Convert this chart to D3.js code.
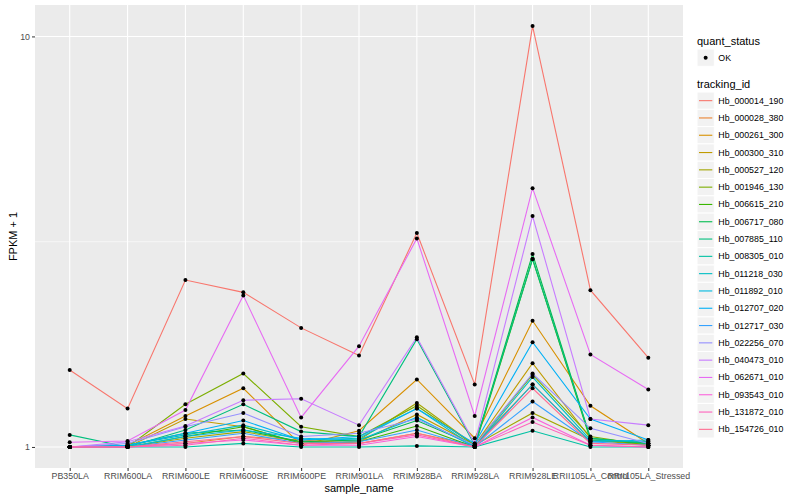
<!DOCTYPE html>
<html>
<head>
<meta charset="utf-8">
<script src="https://cdn.jsdelivr.net/npm/d3@7"></script>
<style>
  body { margin: 0; background: #fff; }
  text { font-family: "Liberation Sans", Arial, sans-serif; }
</style>
</head>
<body>
<svg id="plot" width="800" height="500"></svg>
<script>
'use strict';

const samples = ['PB350LA', 'RRIM600LA', 'RRIM600LE', 'RRIM600SE', 'RRIM600PE', 'RRIM901LA',
    'RRIM928BA', 'RRIM928LA', 'RRIM928LE', 'RRII105LA_Control', 'RRII105LA_Stressed'];

const trackingIds = ['Hb_000014_190', 'Hb_000028_380', 'Hb_000261_300', 'Hb_000300_310', 'Hb_000527_120',
    'Hb_001946_130', 'Hb_006615_210', 'Hb_006717_080', 'Hb_007885_110', 'Hb_008305_010',
    'Hb_011218_030', 'Hb_011892_010', 'Hb_012707_020', 'Hb_012717_030', 'Hb_022256_070',
    'Hb_040473_010', 'Hb_062671_010', 'Hb_093543_010', 'Hb_131872_010', 'Hb_154726_010'];

// FPKM + 1, one row per tracking id, one value per sample
const fpkm = [
    [1.54, 1.24, 2.55, 2.38, 1.95, 1.67, 3.32, 1.42, 10.6, 2.41, 1.65],
    [1.00, 1.00, 1.02, 1.06, 1.04, 1.02, 1.08, 1.01, 1.42, 1.03, 1.03],
    [1.00, 1.01, 1.19, 1.39, 1.01, 1.095, 1.46, 1.05, 2.03, 1.26, 1.02],
    [1.00, 1.00, 1.17, 1.12, 1.02, 1.03, 1.20, 1.01, 1.60, 1.05, 1.01],
    [1.00, 1.00, 1.05, 1.09, 1.03, 1.04, 1.28, 1.01, 1.21, 1.04, 1.01],
    [1.00, 1.00, 1.27, 1.51, 1.12, 1.06, 1.26, 1.01, 1.50, 1.06, 1.01],
    [1.00, 1.00, 1.06, 1.12, 1.02, 1.03, 1.125, 1.00, 2.87, 1.04, 1.02],
    [1.00, 1.01, 1.08, 1.10, 1.03, 1.04, 1.16, 1.01, 2.95, 1.05, 1.02],
    [1.07, 1.00, 1.10, 1.27, 1.09, 1.06, 1.83, 1.01, 2.87, 1.05, 1.02],
    [1.00, 1.00, 1.00, 1.02, 1.00, 1.00, 1.006, 1.00, 1.095, 1.00, 1.00],
    [1.00, 1.01, 1.07, 1.13, 1.04, 1.05, 1.24, 1.00, 1.48, 1.04, 1.03],
    [1.00, 1.00, 1.06, 1.10, 1.05, 1.04, 1.18, 1.00, 1.42, 1.03, 1.04],
    [1.00, 1.01, 1.08, 1.16, 1.04, 1.06, 1.24, 1.02, 1.80, 1.17, 1.04],
    [1.00, 1.00, 1.04, 1.08, 1.02, 1.03, 1.10, 1.00, 1.29, 1.03, 1.01],
    [1.00, 1.02, 1.12, 1.21, 1.06, 1.08, 1.17, 1.01, 1.51, 1.11, 1.02],
    [1.00, 1.03, 1.125, 1.30, 1.31, 1.13, 1.85, 1.02, 3.65, 1.17, 1.13],
    [1.027, 1.034, 1.23, 2.34, 1.18, 1.76, 3.22, 1.19, 4.27, 1.68, 1.38],
    [1.00, 1.00, 1.02, 1.04, 1.01, 1.01, 1.06, 1.00, 1.18, 1.01, 1.00],
    [1.00, 1.00, 1.01, 1.05, 1.01, 1.02, 1.07, 1.00, 1.15, 1.01, 1.00],
    [1.00, 1.00, 1.03, 1.06, 1.02, 1.02, 1.08, 1.00, 1.39, 1.02, 1.01]
];

const yTicks = [1, 10];
const yMinor = [Math.sqrt(10)];
const quantStatus = ['OK'];

// ggplot2 default hue palette for 20 levels
const colours = ['#F8766D', '#EA8331', '#D89000', '#C09B00', '#A3A500', '#7CAE00', '#39B600', '#00BB4E',
    '#00BF7D', '#00C1A3', '#00BFC4', '#00BAE0', '#00B0F6', '#35A2FF', '#9590FF', '#C77CFF',
    '#E76BF3', '#FA62DB', '#FF62BC', '#FF6C91'];

const panel = { left: 35, right: 683, top: 5, bottom: 468 };

const svg = d3.select('#plot');

const xScale = d3.scalePoint()
    .domain(samples)
    .range([panel.left, panel.right])
    .padding(0.6);

const allValues = fpkm.flat();
const logMin = Math.log10(d3.min(allValues));
const logMax = Math.log10(d3.max(allValues));
const logPad = (logMax - logMin) * 0.05;

const yScale = d3.scaleLog()
    .domain([Math.pow(10, logMin - logPad), Math.pow(10, logMax + logPad)])
    .range([panel.bottom, panel.top]);

const colourScale = d3.scaleOrdinal().domain(trackingIds).range(colours);

// panel background and grid
svg.append('rect')
    .attr('x', panel.left).attr('y', panel.top)
    .attr('width', panel.right - panel.left).attr('height', panel.bottom - panel.top)
    .attr('fill', '#EBEBEB');

const grid = svg.append('g');
grid.selectAll('.minor-y').data(yMinor).enter().append('line')
    .attr('x1', panel.left).attr('x2', panel.right)
    .attr('y1', d => yScale(d)).attr('y2', d => yScale(d))
    .attr('stroke', '#fff').attr('stroke-width', 0.55);
grid.selectAll('.major-y').data(yTicks).enter().append('line')
    .attr('x1', panel.left).attr('x2', panel.right)
    .attr('y1', d => yScale(d)).attr('y2', d => yScale(d))
    .attr('stroke', '#fff').attr('stroke-width', 1.1);
grid.selectAll('.major-x').data(samples).enter().append('line')
    .attr('x1', d => xScale(d)).attr('x2', d => xScale(d))
    .attr('y1', panel.top).attr('y2', panel.bottom)
    .attr('stroke', '#fff').attr('stroke-width', 1.1);

// lines
const series = trackingIds.map((id, i) => ({ id, values: fpkm[i] }));
const line = d3.line()
    .x((_, i) => xScale(samples[i]))
    .y(v => yScale(v));

svg.append('g')
    .selectAll('path')
    .data(series)
    .enter()
    .append('path')
    .attr('d', d => line(d.values))
    .attr('fill', 'none')
    .attr('stroke', d => colourScale(d.id))
    .attr('stroke-width', 1.1);

// points
const points = series.flatMap(d => d.values.map((v, i) => ({ sample: samples[i], value: v })));
svg.append('g')
    .selectAll('circle')
    .data(points)
    .enter()
    .append('circle')
    .attr('cx', d => xScale(d.sample))
    .attr('cy', d => yScale(d.value))
    .attr('r', 2)
    .attr('fill', '#000');

// axes
const xAxis = d3.axisBottom(xScale).tickSize(3).tickPadding(2);
svg.append('g')
    .attr('transform', `translate(0, ${panel.bottom})`)
    .call(xAxis)
    .call(g => g.select('.domain').remove())
    .call(g => g.selectAll('.tick line').attr('stroke', '#333'))
    .call(g => g.selectAll('.tick text').attr('fill', '#4D4D4D').attr('font-size', 8.8));

const yAxis = d3.axisLeft(yScale).tickValues(yTicks).tickFormat(d3.format('d')).tickSize(3).tickPadding(2);
svg.append('g')
    .attr('transform', `translate(${panel.left}, 0)`)
    .call(yAxis)
    .call(g => g.select('.domain').remove())
    .call(g => g.selectAll('.tick line').attr('stroke', '#333'))
    .call(g => g.selectAll('.tick text').attr('fill', '#4D4D4D').attr('font-size', 8.8));

svg.append('text')
    .attr('x', (panel.left + panel.right) / 2)
    .attr('y', 492)
    .attr('text-anchor', 'middle')
    .attr('font-size', 11)
    .text('sample_name');

svg.append('text')
    .attr('transform', `translate(17, ${(panel.top + panel.bottom) / 2}) rotate(-90)`)
    .attr('text-anchor', 'middle')
    .attr('font-size', 11)
    .text('FPKM + 1');

// legends
const legendX = 697;
const keySize = 17.3;

svg.append('text')
    .attr('x', legendX).attr('y', 45)
    .attr('font-size', 11)
    .text('quant_status');

const statusKeys = svg.append('g')
    .selectAll('g')
    .data(quantStatus)
    .enter()
    .append('g')
    .attr('transform', (_, i) => `translate(${legendX}, ${49 + i * keySize})`);
statusKeys.append('rect')
    .attr('width', keySize).attr('height', keySize)
    .attr('fill', '#F2F2F2').attr('stroke', '#fff');
statusKeys.append('circle')
    .attr('cx', keySize / 2).attr('cy', keySize / 2).attr('r', 2).attr('fill', '#000');
statusKeys.append('text')
    .attr('x', keySize + 4).attr('y', keySize / 2 + 3)
    .attr('font-size', 8.8)
    .text(d => d);

svg.append('text')
    .attr('x', legendX).attr('y', 88)
    .attr('font-size', 11)
    .text('tracking_id');

const idKeys = svg.append('g')
    .selectAll('g')
    .data(trackingIds)
    .enter()
    .append('g')
    .attr('transform', (_, i) => `translate(${legendX}, ${92 + i * keySize})`);
idKeys.append('rect')
    .attr('width', keySize).attr('height', keySize)
    .attr('fill', '#F2F2F2').attr('stroke', '#fff');
idKeys.append('line')
    .attr('x1', 2).attr('x2', keySize - 2)
    .attr('y1', keySize / 2).attr('y2', keySize / 2)
    .attr('stroke', d => colourScale(d))
    .attr('stroke-width', 1.1);
idKeys.append('text')
    .attr('x', keySize + 4).attr('y', keySize / 2 + 3)
    .attr('font-size', 8.8)
    .text(d => d);
</script>
</body>
</html>
